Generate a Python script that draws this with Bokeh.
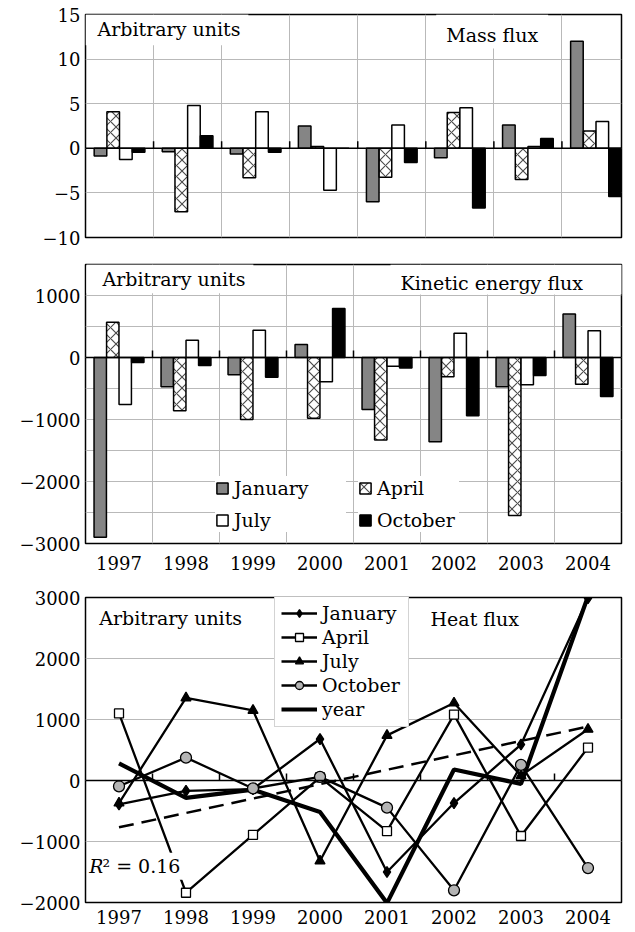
import numpy as np
from bokeh.plotting import figure
from bokeh.layouts import column
from bokeh.models import (Range1d, FixedTicker, Span, Label, Legend, LegendItem,
                          ColumnDataSource, Grid)
from bokeh.transform import dodge
from bokeh.embed import file_html
from bokeh.resources import INLINE

# ---------------- data ----------------
years = ["1997", "1998", "1999", "2000", "2001", "2002", "2003", "2004"]
months = ["January", "April", "July", "October"]

mass_jan = [-0.85, -0.4, -0.65, 2.5, -6.0, -1.05, 2.6, 12.0]
mass_apr = [4.1, -7.1, -3.3, 0.2, -3.25, 4.0, -3.5, 1.95]
mass_jul = [-1.25, 4.8, 4.1, -4.7, 2.6, 4.55, 0.2, 3.0]
mass_oct = [-0.45, 1.4, -0.45, 0.0, -1.6, -6.7, 1.1, -5.4]

ke_jan = [-2900, -470, -280, 210, -840, -1360, -470, 700]
ke_apr = [570, -860, -1000, -980, -1330, -310, -2550, -430]
ke_jul = [-760, 280, 440, -390, -140, 390, -440, 430]
ke_oct = [-80, -130, -320, 790, -170, -940, -290, -630]

heat_jan = [-390, -170, -140, 680, -1500, -370, 590, 2990]
heat_apr = [1100, -1840, -890, 50, -830, 1080, -910, 540]
heat_jul = [-370, 1355, 1150, -1320, 740, 1270, 80, 840]
heat_oct = [-95, 375, -130, 60, -445, -1800, 255, -1435]
heat_year = [280, -285, -150, -515, -2010, 180, -55, 3020]

mass_ticks = [-10, -5, 0, 5, 10, 15]
ke_ticks = [-3000, -2000, -1000, 0, 1000]
ke_minor = [-2500, -1500, -500, 500, 1500]
heat_ticks = [-2000, -1000, 0, 1000, 2000, 3000]

# ---------------- style ----------------
FONT = "DejaVu Serif"
GRID = "#b9b9b9"
idx = np.arange(len(years))
bounds = [float(i) + 0.5 for i in range(len(years) - 1)]
CAP = 4.0  # distance from em-top to cap-top of the label font (px)


def minus(v):
    return str(v).replace("-", "\u2212")


def make_fig(height, xr, yr, borders, xaxis=True):
    l, r, t, b = borders
    p = figure(width=635, height=height, x_range=Range1d(*xr), y_range=Range1d(*yr),
               output_backend="svg", toolbar_location=None,
               x_axis_location="below" if xaxis else None,
               min_border_left=l, min_border_right=r, min_border_top=t, min_border_bottom=b)
    p.outline_line_color = "black"
    p.outline_line_width = 1.5
    p.outline_line_alpha = 1.0
    p.background_fill_color = "white"
    p.border_fill_color = "white"
    p.xgrid.grid_line_color = None
    ya = p.yaxis
    ya.axis_line_color = None
    ya.major_tick_line_color = None
    ya.minor_tick_line_color = None
    ya.major_tick_out = 0
    ya.major_tick_in = 0
    ya.minor_tick_out = 0
    ya.minor_tick_in = 0
    ya.major_label_text_font = FONT
    ya.major_label_text_font_size = "18px"
    ya.major_label_text_color = "black"
    ya.major_label_standoff = 5
    p.ygrid.grid_line_color = GRID
    p.ygrid.grid_line_width = 1
    if xaxis:
        xa = p.xaxis
        xa.ticker = FixedTicker(ticks=[int(i) for i in idx])
        xa.major_label_overrides = {int(i): years[i] for i in idx}
        xa.axis_line_color = None
        xa.major_tick_line_color = None
        xa.minor_tick_line_color = None
        xa.major_tick_out = 0
        xa.major_tick_in = 0
        xa.minor_tick_out = 0
        xa.minor_tick_in = 0
        xa.major_label_text_font = FONT
        xa.major_label_text_font_size = "18px"
        xa.major_label_text_color = "black"
    return p


def zero_line(p, frame_px):
    p.add_layout(Span(location=0, dimension="width", line_color="black", line_width=1.5))
    h = (p.y_range.end - p.y_range.start) * 7.0 / frame_px
    p.segment(x0=bounds, y0=[0] * len(bounds), x1=bounds, y1=[h] * len(bounds),
              line_color="black", line_width=1.5)


def add_text(p, frame, text, ink_left, cap_top, pad, italic=False):
    fl, ft = frame
    x_off = ink_left - fl - pad["left"]
    y_off = -(cap_top - CAP - ft - pad["top"])
    lab = Label(x=p.x_range.start, y=p.y_range.end, x_offset=x_off, y_offset=y_off,
                text=text, text_font=FONT, text_font_size="19px", text_color="black",
                text_font_style="italic" if italic else "normal",
                text_baseline="top", text_align="left",
                background_fill_color="white", background_fill_alpha=1.0,
                padding=pad)
    p.add_layout(lab)


def bar_panel(p, jan, apr, jul, oct_):
    src = ColumnDataSource(dict(x=idx, jan=jan, apr=apr, jul=jul, oct=oct_))
    styles = [
        ("jan", -0.28, dict(fill_color="#858585")),
        ("apr", -0.093, dict(fill_color="white", hatch_pattern="x", hatch_color="#4a4a4a",
                             hatch_scale=11, hatch_weight=1.1)),
        ("jul", 0.093, dict(fill_color="white")),
        ("oct", 0.28, dict(fill_color="black")),
    ]
    rs = []
    for key, off, st in styles:
        r = p.vbar(x=dodge("x", off), top=key, bottom=0, width=0.185, source=src,
                   line_color="black", line_width=1.5, **st)
        rs.append(r)
    return rs


# ---------------- panel 1: mass flux ----------------
F1 = (85, 14)
p1 = make_fig(250, (-0.5, 7.375), (mass_ticks[0], mass_ticks[-1]), (85, 12, 14, 13), xaxis=False)
p1.yaxis.ticker = FixedTicker(ticks=mass_ticks)
p1.yaxis.major_label_overrides = {t: minus(t) for t in mass_ticks}
p1.add_layout(Grid(dimension=0, ticker=FixedTicker(ticks=bounds), grid_line_color=GRID))
bar_panel(p1, mass_jan, mass_apr, mass_jul, mass_oct)
zero_line(p1, 223)
add_text(p1, F1, "Arbitrary units", 97, 21.7, dict(left=12, right=8, top=4, bottom=5))
add_text(p1, F1, "Mass flux", 445.7, 27, dict(left=10, right=10, top=9, bottom=3))

# ---------------- panel 2: kinetic energy flux ----------------
F2 = (85, 264)
p2 = make_fig(326, (-0.5, 7.5), (-3000, 1500), (85, 12, 14, 33))
p2.yaxis.ticker = FixedTicker(ticks=ke_ticks, minor_ticks=ke_minor)
p2.yaxis.major_label_overrides = {t: minus(t) for t in ke_ticks}
p2.ygrid.minor_grid_line_color = GRID
p2.xaxis.major_label_standoff = 12
p2.add_layout(Grid(dimension=0, ticker=FixedTicker(ticks=bounds), grid_line_color=GRID))
r_jan, r_apr, r_jul, r_oct = bar_panel(p2, ke_jan, ke_apr, ke_jul, ke_oct)
zero_line(p2, 279)
add_text(p2, F2, "Arbitrary units", 102, 271.7, dict(left=16, right=8, top=4, bottom=3))
add_text(p2, F2, "Kinetic energy flux", 400, 275, dict(left=10, right=40, top=7, bottom=1))


def bar_legend(items, loc, lw):
    lg = Legend(items=items, location=loc, orientation="vertical",
                label_text_font=FONT, label_text_font_size="19px", label_text_color="black",
                glyph_width=14, glyph_height=14, label_standoff=5, label_height=24,
                label_width=lw, spacing=8, padding=5, margin=0,
                background_fill_color="white", background_fill_alpha=1.0,
                border_line_color=None)
    p2.add_layout(lg)


bar_legend([LegendItem(label=months[0], renderers=[r_jan]),
            LegendItem(label=months[2], renderers=[r_jul])], (130, 11), 112)
bar_legend([LegendItem(label=months[1], renderers=[r_apr]),
            LegendItem(label=months[3], renderers=[r_oct])], (273, 11), 82)

# ---------------- panel 3: heat flux ----------------
F3 = (83, 597)
p3 = make_fig(355, (-0.5, 7.5), (heat_ticks[0], heat_ticks[-1]), (83, 14, 21, 29))
p3.yaxis.ticker = FixedTicker(ticks=heat_ticks)
p3.yaxis.major_label_overrides = {t: minus(t) for t in heat_ticks}
p3.xaxis.major_label_standoff = 7
zero_line(p3, 305)

src3 = ColumnDataSource(dict(x=idx, jan=heat_jan, apr=heat_apr, jul=heat_jul,
                             oct=heat_oct, year=heat_year))
series = [
    ("January", "jan", "diamond", "black", 11),
    ("April", "apr", "square", "white", 9),
    ("July", "jul", "triangle", "black", 10),
    ("October", "oct", "circle", "#b4b4b4", 11),
]
rendered = []
for label, key, marker, fill, size in series:
    lr = p3.line("x", key, source=src3, line_color="black", line_width=2.3)
    rendered.append((label, key, marker, fill, size, lr))
yr_line = p3.line("x", "year", source=src3, line_color="black", line_width=4.2)

coef = np.polyfit(idx, np.array(heat_year, dtype=float), 1)
trend = np.polyval(coef, idx)
p3.line(idx, trend, line_color="black", line_width=2.5, line_dash="15 8")

items3 = []
for label, key, marker, fill, size, lr in rendered:
    sr = p3.scatter("x", key, source=src3, marker=marker, size=size, fill_color=fill,
                    line_color="black", line_width=1.3)
    items3.append(LegendItem(label=label, renderers=[lr, sr]))
items3.append(LegendItem(label="year", renderers=[yr_line]))

leg3 = Legend(items=items3, location=(189, 175), orientation="vertical",
              label_text_font=FONT, label_text_font_size="19px", label_text_color="black",
              glyph_width=36, glyph_height=20, label_standoff=5, label_height=21,
              label_width=80, spacing=2, padding=6, margin=0,
              background_fill_color="white", background_fill_alpha=1.0,
              border_line_color="#a8a8a8", border_line_width=1)
p3.add_layout(leg3)

add_text(p3, F3, "Arbitrary units", 96.7, 610, dict(left=10, right=8, top=6, bottom=2))
add_text(p3, F3, "Heat flux", 428, 611.7, dict(left=6, right=6, top=6, bottom=2))
add_text(p3, F3, "R", 86.7, 858.3, dict(left=2, right=0, top=2, bottom=2), italic=True)
add_text(p3, F3, "\u00b2 = 0.16", 100, 858.3, dict(left=0, right=3, top=2, bottom=3))

layout = column(p1, p2, p3, spacing=0)
open("out.html", "w").write(file_html(layout, INLINE))
